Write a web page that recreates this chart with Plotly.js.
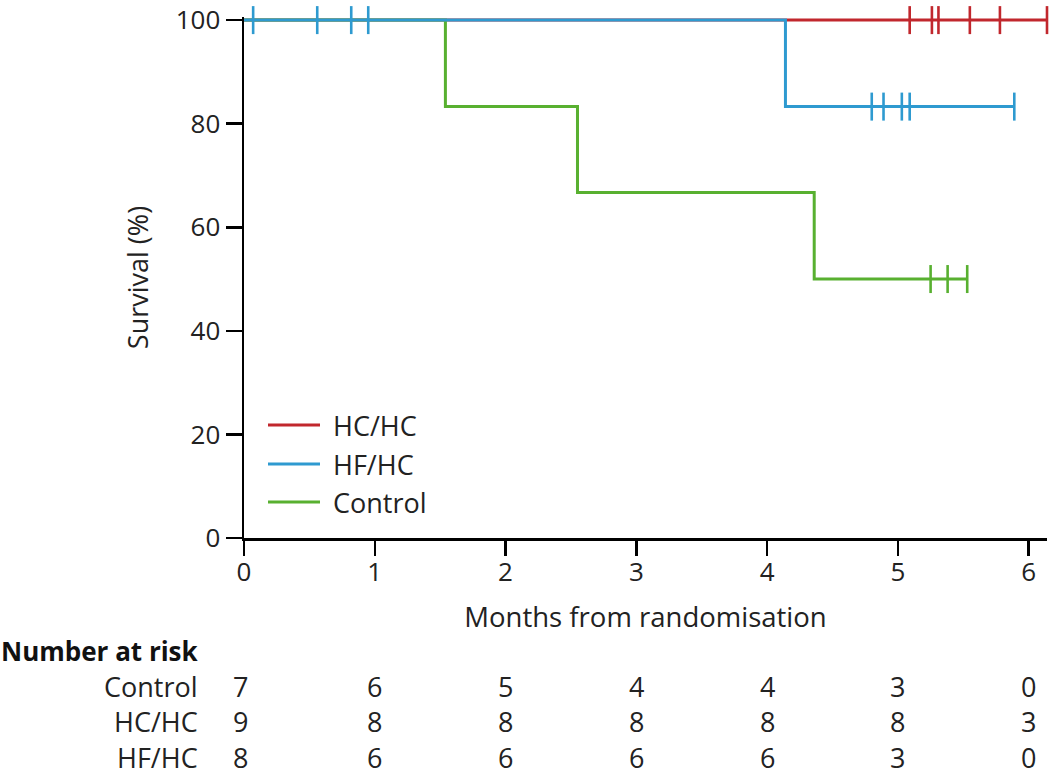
<!DOCTYPE html>
<html>
<head>
<meta charset="utf-8">
<script src="https://cdn.plot.ly/plotly-3.0.1.min.js"></script>
<style>html,body{margin:0;padding:0;background:#fff;}#chart{width:1050px;height:775px;}</style>
</head>
<body>
<div id="chart"></div>
<script>
// ---- data ----
const groups = ["HC/HC", "HF/HC", "Control"];

const hchcTime = [0, 6.14];
const hchcSurv = [100, 100];
const hchcCensorTime = [5.09, 5.26, 5.31, 5.55, 5.78, 6.14];
const hchcCensorSurv = [100, 100, 100, 100, 100, 100];

const hfhcTime = [0, 4.14, 5.89];
const hfhcSurv = [100, 83.3, 83.3];
const hfhcCensorTime = [0.07, 0.56, 0.82, 0.95, 4.80, 4.89, 5.03, 5.09, 5.89];
const hfhcCensorSurv = [100, 100, 100, 100, 83.3, 83.3, 83.3, 83.3, 83.3];

const controlTime = [0, 1.54, 2.55, 4.36, 5.53];
const controlSurv = [100, 83.3, 66.7, 50, 50];
const controlCensorTime = [5.25, 5.38, 5.53];
const controlCensorSurv = [50, 50, 50];

const riskMonths = [0, 1, 2, 3, 4, 5, 6];
const riskLabels = ["Control", "HC/HC", "HF/HC"];
const riskControl = [7, 6, 5, 4, 4, 3, 0];
const riskHCHC = [9, 8, 8, 8, 8, 8, 3];
const riskHFHC = [8, 6, 6, 6, 6, 3, 0];

const xTicks = [0, 1, 2, 3, 4, 5, 6];
const yTicks = [0, 20, 40, 60, 80, 100];

// ---- style ----
const RED = "#c1272d", BLUE = "#2e9ad0", GREEN = "#58b030";
const FONT = "Open Sans, Noto Sans, DejaVu Sans, sans-serif";
const W = 1050, H = 775;
const M = {l: 244, r: 3, t: 17, b: 237};
const PW = W - M.l - M.r, PH = H - M.t - M.b;
const px = x => (x - M.l) / PW;      // pixel -> paper x
const py = y => (H - M.b - y) / PH;  // pixel -> paper y

function curve(t, s, color, name) {
  return {x: t, y: s, mode: "lines", line: {shape: "hv", color: color, width: 3},
          name: name, showlegend: false, cliponaxis: false, hoverinfo: "skip"};
}
function censor(t, s, color, name) {
  return {x: t, y: s, mode: "markers", name: name, showlegend: false, cliponaxis: false,
          marker: {symbol: "line-ns", size: 20, line: {color: color, width: 2.6}}, hoverinfo: "skip"};
}

const traces = [
  curve(hchcTime, hchcSurv, RED, groups[0]),
  censor(hchcCensorTime, hchcCensorSurv, RED, groups[0]),
  curve(controlTime, controlSurv, GREEN, groups[2]),
  censor(controlCensorTime, controlCensorSurv, GREEN, groups[2]),
  curve(hfhcTime, hfhcSurv, BLUE, groups[1]),
  censor(hfhcCensorTime, hfhcCensorSurv, BLUE, groups[1]),
];

// legend (drawn manually)
const legendColors = [RED, BLUE, GREEN];
const legendY = [425, 464, 502];
const shapes = [];
const annotations = [];
groups.forEach((g, i) => {
  shapes.push({type: "line", xref: "paper", yref: "paper",
    x0: px(268), x1: px(320), y0: py(legendY[i]), y1: py(legendY[i]),
    line: {color: legendColors[i], width: 3}});
  annotations.push({xref: "paper", yref: "paper", x: px(331), y: py(legendY[i]),
    xanchor: "left", yanchor: "middle", text: g, showarrow: false,
    font: {family: FONT, size: 27, color: "#222"}});
});

// number at risk table
annotations.push({xref: "paper", yref: "paper", x: px(0), y: py(651), xanchor: "left", yanchor: "middle",
  text: "<b>Number at risk</b>", showarrow: false, borderpad: 0,
  font: {family: FONT, size: 26, color: "#111"}});
const riskRows = [riskControl, riskHCHC, riskHFHC];
const rowY = [686, 721, 757];
riskRows.forEach((row, r) => {
  annotations.push({xref: "paper", yref: "paper", x: px(199), y: py(rowY[r]), xanchor: "right", yanchor: "middle",
    text: riskLabels[r], showarrow: false, borderpad: 0, font: {family: FONT, size: 27, color: "#222"}});
  row.forEach((v, c) => {
    annotations.push({xref: "x", yref: "paper", x: riskMonths[c], y: py(rowY[r]), xanchor: "center", yanchor: "middle",
      xshift: c === 0 ? -4 : 0, borderpad: 0,
      text: String(v), showarrow: false, font: {family: FONT, size: 27, color: "#222"}});
  });
});

const layout = {
  width: W, height: H,
  margin: M,
  paper_bgcolor: "#fff", plot_bgcolor: "#fff",
  showlegend: false,
  font: {family: FONT, size: 26, color: "#222"},
  xaxis: {
    range: [0, 6.14], tickvals: xTicks, ticktext: xTicks.map(String),
    showgrid: false, zeroline: false, showline: true, linecolor: "#000", linewidth: 2.5,
    ticks: "outside", ticklen: 15, tickwidth: 2.5, tickcolor: "#000",
    ticklabelstandoff: -6, ticklabeloverflow: "allow",
    tickfont: {family: FONT, size: 26, color: "#222"},
    title: {text: "Months from randomisation", font: {family: FONT, size: 27.5, color: "#222"}, standoff: 20},
    fixedrange: true
  },
  yaxis: {
    range: [0, 100.6], tickvals: yTicks, ticktext: yTicks.map(String),
    showgrid: false, zeroline: false, showline: true, linecolor: "#000", linewidth: 2.5,
    ticks: "outside", ticklen: 16, tickwidth: 2.5, tickcolor: "#000",
    ticklabeloverflow: "allow",
    tickfont: {family: FONT, size: 26, color: "#222"},
    title: {text: "Survival (%)", font: {family: FONT, size: 27, color: "#222"}, standoff: 19},
    fixedrange: true
  },
  shapes: shapes,
  annotations: annotations
};

Plotly.newPlot("chart", traces, layout, {displayModeBar: false, staticPlot: true});
</script>
</body>
</html>
